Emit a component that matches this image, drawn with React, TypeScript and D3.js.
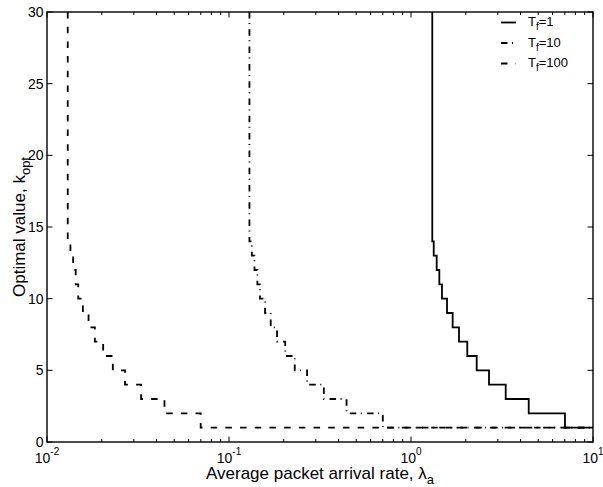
import React from "react";
import * as d3 from "d3";

// ---- data ----
const seriesNames = ["1", "10", "100"];
const kLevels = [14, 13, 12, 11, 10, 9, 8, 7, 6, 5, 4, 3, 2];
const kTop = 30;
const kLast = 1;
const tf1Start = 1.309;
const tf1Breaks = [1.333, 1.384, 1.431, 1.48, 1.577, 1.694, 1.835, 2.038, 2.296, 2.683, 3.314, 4.434, 7.015];
const tf10Start = 0.1295;
const tf10Breaks = [0.1335, 0.138, 0.1432, 0.148, 0.1578, 0.1695, 0.1836, 0.2036, 0.2298, 0.2685, 0.332, 0.4425, 0.700];
const tf100Start = 0.01300;
const tf100Breaks = [0.01345, 0.01392, 0.01438, 0.01485, 0.01575, 0.01692, 0.01832, 0.02035, 0.0230, 0.02683, 0.0329, 0.0442, 0.0699];
const xTickMajors = [0.01, 0.1, 1, 10];
const xTickExps = ["-2", "-1", "0", "1"];
const yTicks = [0, 5, 10, 15, 20, 25, 30];

const W = 603, H = 487;
const L = 47, R = 593, T = 12, B = 442;
const FONT = "'Liberation Sans', Arial, Helvetica, sans-serif";

export default function App() {
  const x = d3.scaleLog().domain([0.01, 10]).range([L, R]);
  const y = d3.scaleLinear().domain([0, 30]).range([B, T]);

  const makePts = (start: number, breaks: number[]) => {
    const pts: [number, number][] = [[start, kTop], [start, kLevels[0]]];
    breaks.forEach((b, i) => {
      const next = i + 1 < kLevels.length ? kLevels[i + 1] : kLast;
      pts.push([b, kLevels[i]]);
      pts.push([b, next]);
    });
    pts.push([10, kLast]);
    return pts;
  };
  const line = d3.line<[number, number]>().x(d => x(d[0])).y(d => y(d[1]));

  const series = [
    { pts: makePts(tf1Start, tf1Breaks), dash: "none", w: 1.8 },
    { pts: makePts(tf10Start, tf10Breaks), dash: "6.5 4.5 1 5.3", w: 1.8 },
    { pts: makePts(tf100Start, tf100Breaks), dash: "6.5 8.2", w: 1.8 },
  ];

  const minors: number[] = [];
  [0.01, 0.1, 1].forEach(d => { for (let m = 2; m <= 9; m++) minors.push(d * m); });

  const legendY = [22.5, 43, 63.5];

  return (
    <svg width={W} height={H} style={{ position: "absolute", left: 0, top: 0, background: "#fff" }} fontFamily={FONT}>
      <rect x={0} y={0} width={W} height={H} fill="#fff" />
      <defs>
        <clipPath id="plot">
          <rect x={L} y={T} width={R - L} height={B - T} />
        </clipPath>
      </defs>
      {/* series */}
      <g clipPath="url(#plot)">
        {series.map((s, i) => (
          <path key={i} d={line(s.pts) || ""} fill="none" stroke="#000" strokeWidth={s.w}
            strokeDasharray={s.dash} strokeLinejoin="miter" />
        ))}
      </g>
      {/* box */}
      <rect x={L} y={T} width={R - L} height={B - T} fill="none" stroke="#000" strokeWidth={1.4} />
      {/* x ticks */}
      {xTickMajors.map((v, i) => (
        <g key={"xm" + i}>
          <line x1={x(v)} x2={x(v)} y1={B} y2={B - 5.5} stroke="#000" strokeWidth={1} />
          <line x1={x(v)} x2={x(v)} y1={T} y2={T + 5.5} stroke="#000" strokeWidth={1} />
          <text x={x(v)} y={462.5} textAnchor="middle" fontSize={14}>
            10<tspan fontSize={10} dy={-8}>{xTickExps[i]}</tspan>
          </text>
        </g>
      ))}
      {minors.map((v, i) => (
        <g key={"xn" + i}>
          <line x1={x(v)} x2={x(v)} y1={B} y2={B - 3} stroke="#000" strokeWidth={1} />
          <line x1={x(v)} x2={x(v)} y1={T} y2={T + 3} stroke="#000" strokeWidth={1} />
        </g>
      ))}
      {/* y ticks */}
      {yTicks.map((v, i) => (
        <g key={"y" + i}>
          <line x1={L} x2={L + 5.5} y1={y(v)} y2={y(v)} stroke="#000" strokeWidth={1} />
          <line x1={R} x2={R - 5.5} y1={y(v)} y2={y(v)} stroke="#000" strokeWidth={1} />
          <text x={43.5} y={y(v)} dy="0.36em" textAnchor="end" fontSize={14}>{v}</text>
        </g>
      ))}
      {/* axis labels */}
      <text x={(L + R) / 2} y={479} textAnchor="middle" fontSize={17}>
        Average packet arrival rate, λ<tspan fontSize={13} dy={5}>a</tspan>
      </text>
      <text transform={`translate(25,${(T + B) / 2}) rotate(-90)`} textAnchor="middle" fontSize={17}>
        Optimal value, k<tspan fontSize={13} dy={5}>opt</tspan>
      </text>
      {/* legend */}
      {series.map((s, i) => (
        <g key={"lg" + i}>
          <line x1={501} x2={516} y1={legendY[i]} y2={legendY[i]} stroke="#000" strokeWidth={s.w}
            strokeDasharray={s.dash} />
          <text x={528} y={legendY[i] + 3.8} fontSize={13}>
            T<tspan fontSize={10} dy={4}>f</tspan><tspan dy={-4}>={seriesNames[i]}</tspan>
          </text>
        </g>
      ))}
    </svg>
  );
}
